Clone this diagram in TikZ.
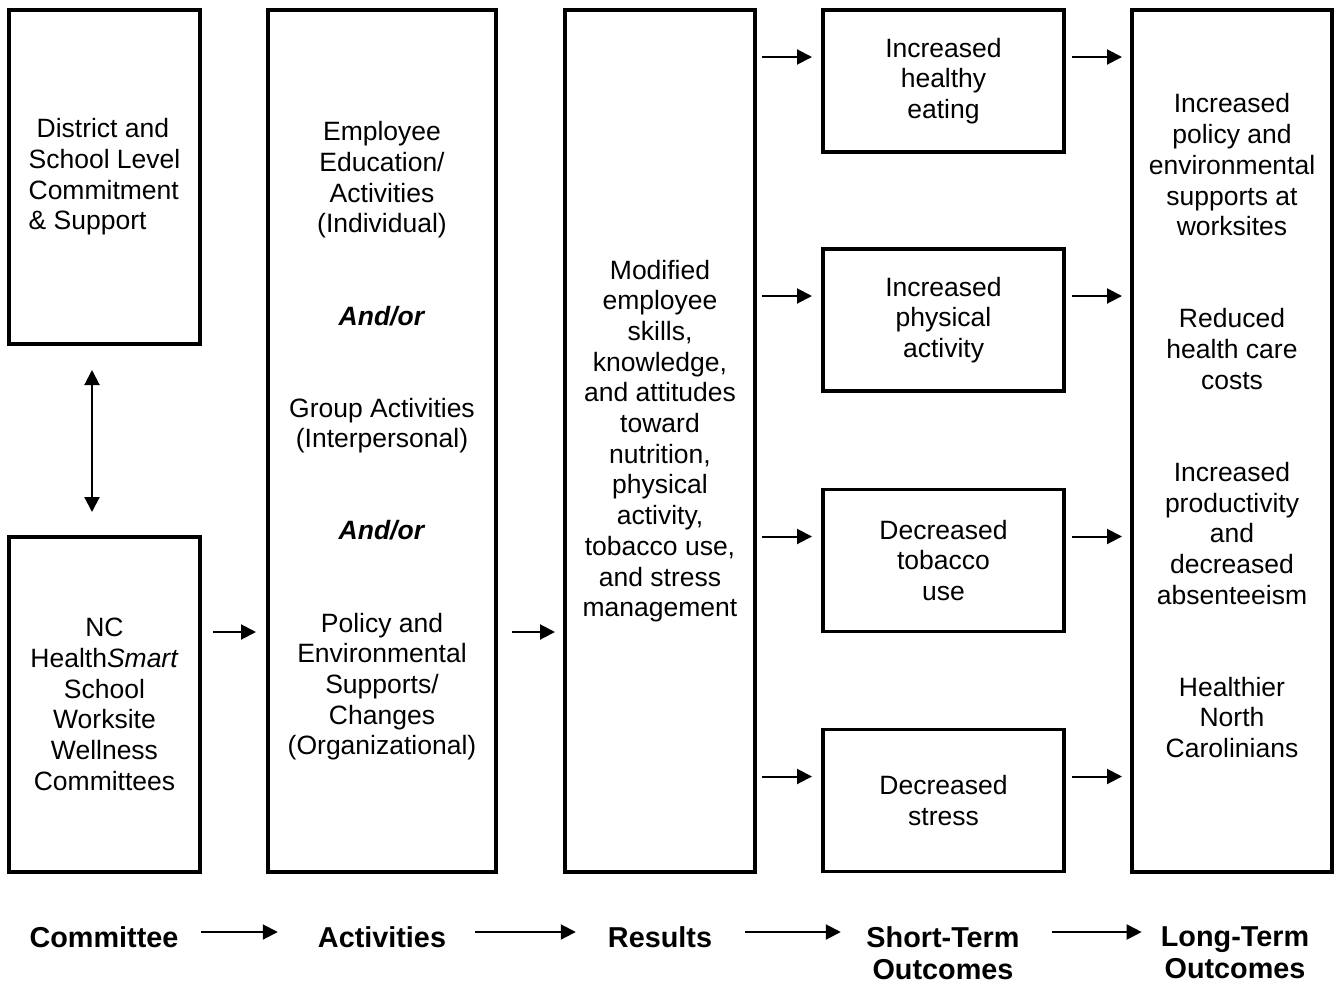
\documentclass[tikz,border=0pt]{standalone}
\usepackage{fontspec}
\setmainfont{Liberation Sans}
\usetikzlibrary{arrows.meta}
\begin{document}
\begin{tikzpicture}
		[x=1pt,y=-1pt,
		box/.style={draw,line width=3.5pt,align=center,inner sep=0pt,outer sep=0pt,
			font=\fontsize{26.5}{30.7}\selectfont},
		stbox/.style={box,minimum width=241pt,minimum height=142pt},
		link/.style={line width=2pt,-{Triangle[length=15pt,width=15pt]}},
		stage/.style={align=center,inner sep=0pt,anchor=north,
			font=\fontsize{28.8}{31.5}\selectfont\bfseries}]
		\useasboundingbox (0,0) rectangle (1341,983);
		\node[box,minimum width=191pt,minimum height=334pt,align=left] (sch) at (104.5,177)
			{\hspace*{8pt}District and\\School Level\\Commitment\\\& Support};
		\node[box,minimum width=191pt,minimum height=335pt] (com) at (104.5,704.5)
			{NC\\Health\textit{Smart}\\School\\Worksite\\Wellness\\Committees};
		\node[box,minimum width=228pt,minimum height=862pt] (act) at (382,441)
			{Employee\\Education/\\Activities\\(Individual)\\[61.4pt]
			\textbf{\textit{And/or}}\\[61.4pt]
			Group Activities\\(Interpersonal)\\[61.4pt]
			\textbf{\textit{And/or}}\\[61.4pt]
			Policy and\\Environmental\\Supports/\\Changes\\(Organizational)};
		\node[box,minimum width=190pt,minimum height=862pt] (res) at (660,441)
			{Modified\\employee\\skills,\\knowledge,\\and attitudes\\toward\\nutrition,\\physical\\activity,\\tobacco use,\\and stress\\management};
		\node[stbox] (eat) at (943.5,81) {Increased\\healthy\\eating};
		\node[stbox] (pa) at (943.5,320) {Increased\\physical\\activity};
		\node[stbox] (tob) at (943.5,560.5) {Decreased\\tobacco\\use};
		\node[stbox] (str) at (943.5,800.5) {Decreased\\stress};
		\node[box,minimum width=200pt,minimum height=862pt] (lt) at (1232,441)
			{Increased\\policy and\\environmental\\supports at\\worksites\\[61.4pt]
			Reduced\\health care\\costs\\[61.4pt]
			Increased\\productivity\\and\\decreased\\absenteeism\\[61.4pt]
			Healthier\\North\\Carolinians\\\mbox{}};
		\draw[line width=2pt,{Triangle[length=15pt,width=15pt]}-{Triangle[length=15pt,width=15pt]},
			shorten <=26pt,shorten >=25pt] ([xshift=-12.5pt]sch.south) -- ([xshift=-12.5pt]com.north);
		\draw[link,shorten <=13pt,shorten >=12pt] ([yshift=72.5pt]com.east) -- ([yshift=72.5pt]com.east -| act.west);
		\draw[link,shorten <=16pt,shorten >=10pt] ([yshift=-191pt]act.east) -- ([yshift=-191pt]act.east -| res.west);
		\foreach \s in {eat,pa,tob,str} {
			\draw[link,shorten <=7pt,shorten >=11pt] ([yshift=24pt]\s.west -| res.east) -- ([yshift=24pt]\s.west);
			\draw[link,shorten <=8pt,shorten >=10pt] ([yshift=24pt]\s.east) -- ([yshift=24pt]\s.east -| lt.west);
		}
		\node[stage] (lcom) at (104,926.5) {Committee};
		\node[stage] (lact) at (382,926.5) {Activities};
		\node[stage] (lres) at (660,926.5) {Results};
		\node[stage] (lst) at (943,926.5) {Short-Term\\Outcomes};
		\node[stage] (llt) at (1235,926.5) {Long-Term\\Outcomes};
		\coordinate (row) at (0,932);
		\draw[link,shorten <=22.5pt,shorten >=40pt] (lcom.east |- row) -- (lact.west |- row);
		\draw[link,shorten <=29pt,shorten >=32pt] (lact.east |- row) -- (lres.west |- row);
		\draw[link,shorten <=33pt,shorten >=25.5pt] (lres.east |- row) -- (lst.west |- row);
		\draw[link,shorten <=32.5pt,shorten >=19pt] (lst.east |- row) -- (llt.west |- row);
	\end{tikzpicture}
\end{document}
